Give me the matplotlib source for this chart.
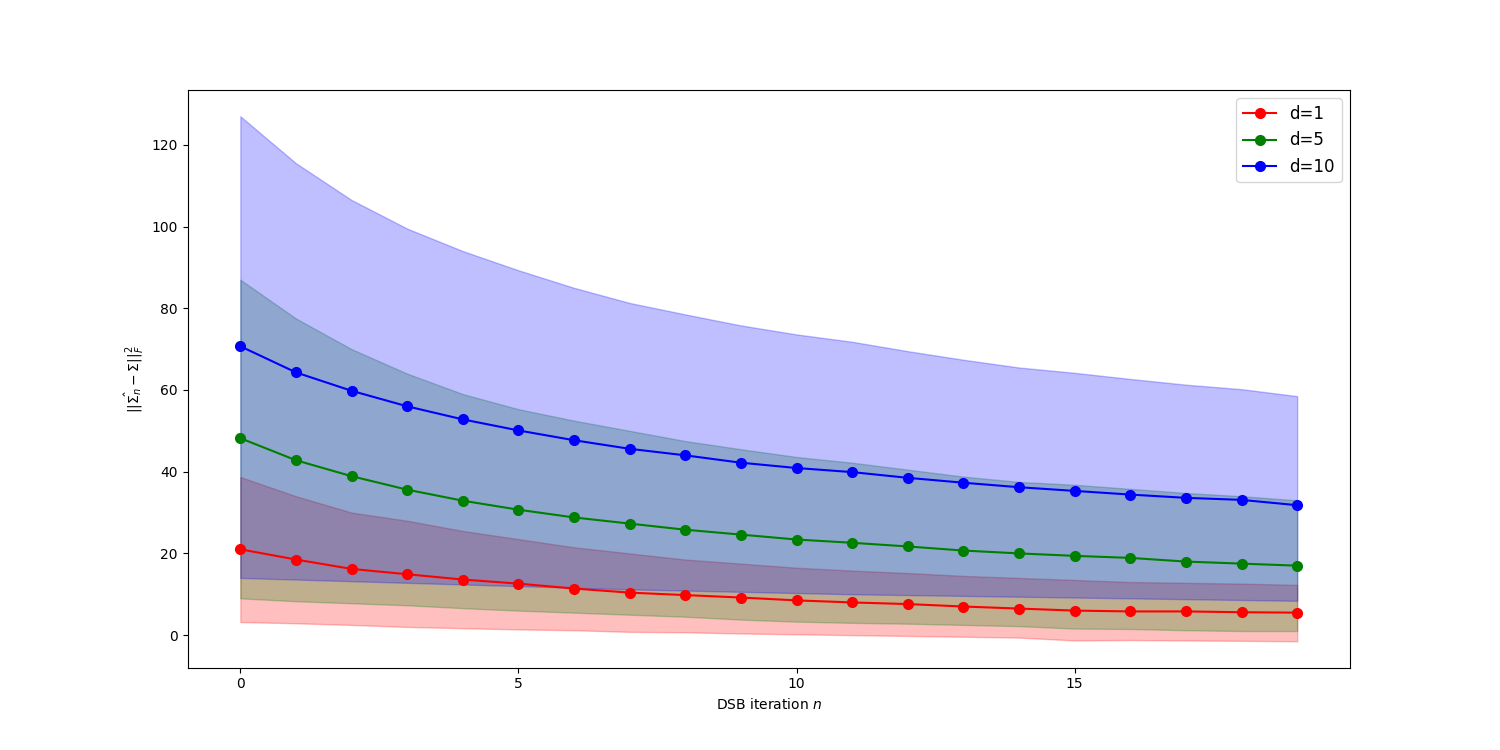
import numpy as np
import matplotlib
matplotlib.use("Agg")
import matplotlib.pyplot as plt

n = np.arange(20)

red_mean = [21, 18.5, 16.2, 14.9, 13.6, 12.6, 11.4, 10.4, 9.8, 9.2, 8.5, 8, 7.6, 7, 6.5, 6, 5.8, 5.8, 5.6, 5.5]
red_lo = [3.2, 2.9, 2.5, 2, 1.7, 1.4, 1.2, 0.8, 0.7, 0.4, 0.2, 0, -0.2, -0.4, -0.6, -1.3, -1.2, -1.3, -1.4, -1.5]
red_hi = [38.7, 34, 30, 28, 25.5, 23.5, 21.5, 20, 18.5, 17.5, 16.5, 15.8, 15.2, 14.5, 14, 13.5, 13, 12.8, 12.6, 12.3]

green_mean = [48.2, 42.8, 38.9, 35.6, 32.9, 30.7, 28.8, 27.3, 25.8, 24.6, 23.4, 22.6, 21.7, 20.7, 20, 19.4, 18.9, 18, 17.5, 17]
green_lo = [9, 8.3, 7.8, 7.3, 6.6, 6, 5.5, 5, 4.5, 3.8, 3.3, 3, 2.8, 2.5, 2.2, 1.6, 1.5, 1.2, 1, 1]
green_hi = [87, 77.5, 70, 64, 59, 55.3, 52.5, 50, 47.5, 45.5, 43.6, 42.2, 40.5, 38.8, 37.5, 36.8, 35.8, 34.8, 34, 33]

blue_mean = [70.7, 64.3, 59.8, 56, 52.8, 50.1, 47.7, 45.6, 44, 42.2, 40.9, 39.9, 38.5, 37.3, 36.2, 35.3, 34.4, 33.6, 33.1, 31.8]
blue_lo = [14, 13.6, 13.2, 12.8, 12.4, 12, 11.6, 11.2, 10.9, 10.6, 10.3, 10, 9.8, 9.6, 9.4, 9.2, 9.0, 8.8, 8.6, 8.4]
blue_hi = [127, 115.5, 106.5, 99.5, 94, 89.3, 85, 81.3, 78.5, 75.8, 73.6, 71.8, 69.5, 67.4, 65.5, 64.2, 62.7, 61.3, 60.2, 58.5]

series = [
    ("d=1", "red", red_mean, red_lo, red_hi),
    ("d=5", "green", green_mean, green_lo, green_hi),
    ("d=10", "blue", blue_mean, blue_lo, blue_hi),
]

fig, ax = plt.subplots(figsize=(15, 7.5), dpi=100)
for label, c, m, lo, hi in series:
    ax.plot(n, m, "o-", color=c, label=label, markersize=7)
    ax.fill_between(n, lo, hi, color=c, alpha=0.25)

ax.set_xlabel("DSB iteration $n$")
ax.set_ylabel(r"$||\hat{\Sigma_n} - \Sigma||_F^2$")
ax.set_xticks([0, 5, 10, 15])
ax.legend(loc="upper right", fontsize=12)
fig.savefig("out.png", dpi=100)
